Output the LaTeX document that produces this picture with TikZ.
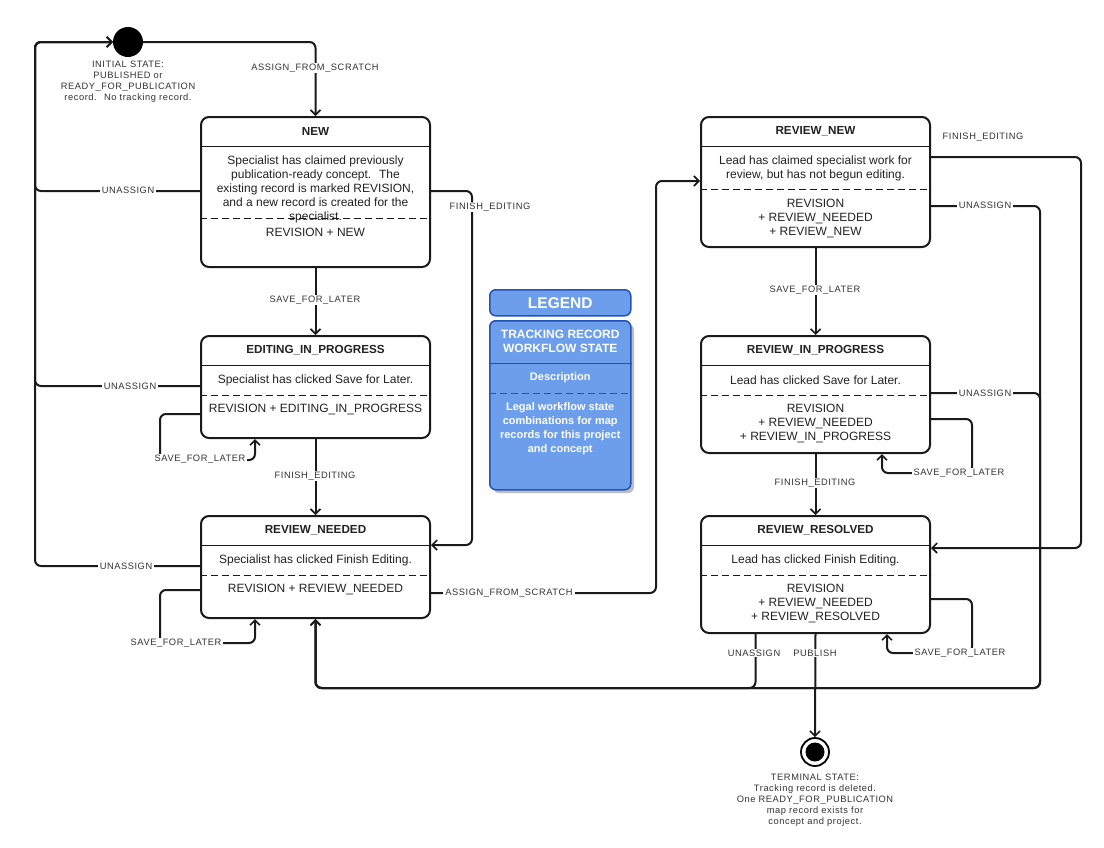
\documentclass[tikz,border=0pt]{standalone}
\usepackage{fontspec}
\setmainfont{Liberation Sans}
\newfontfamily\lblfam{Liberation Sans}[LetterSpace=6]
\usetikzlibrary{arrows.meta}
\definecolor{txt}{RGB}{34,34,34}
\definecolor{lbltxt}{RGB}{51,51,51}
\definecolor{lnc}{RGB}{26,26,26}
\definecolor{lgfill}{RGB}{108,158,235}
\definecolor{lgline}{RGB}{33,82,184}
\definecolor{lgshadow}{RGB}{190,190,190}
\newcommand\boxfont{\fontsize{12}{14}\selectfont}
\newcommand\ttlfont{\fontsize{11.7}{14}\selectfont\bfseries}
\newcommand\lblfont{\lblfam\fontsize{9.3}{11}\selectfont}
\tikzset{
  stbox/.style={draw=lnc, line width=2pt, rounded corners=8pt, fill=white,
    minimum width=229pt, anchor=north west, inner sep=0pt},
  ttl/.style={font=\ttlfont, text=txt, inner sep=0pt},
  body/.style={font=\boxfont, text=txt, align=center, inner sep=0pt},
  sepl/.style={draw=lnc, line width=1pt},
  dsepl/.style={draw=lnc, line width=1pt, dash pattern=on 7pt off 4pt},
  conn/.style={draw=lnc, line width=2pt, rounded corners=6pt,
    -{Straight Barb[length=5pt,width=10pt,line width=1.6pt]}},
  lbl/.style={font=\lblfont, text=lbltxt, fill=white, inner xsep=2pt, inner ysep=1pt},
  note/.style={font=\lblfont, text=lbltxt, align=center, inner sep=0pt},
  lgbox/.style={draw=lgline, line width=1.5pt, fill=lgfill, rounded corners=6pt,
    minimum width=141pt, anchor=north west, inner sep=0pt},
  lgtxt/.style={text=white, font=\bfseries\fontsize{11}{14}\selectfont, align=center, inner sep=0pt},
}
\begin{document}
\begin{tikzpicture}[x=1pt,y=-1pt]
\useasboundingbox (0,0) rectangle (1104,847);
\fill[white] (0,0) rectangle (1104,847);

% ---------- states ----------
\node[circle, fill=black, minimum size=30pt, inner sep=0pt] (init) at (128,42) {};
\node[note] (initL) at (128,82) {INITIAL STATE:\\PUBLISHED or\\READY\_FOR\_PUBLICATION\\record.~ No tracking record.};

\node[circle, draw=black, line width=1.8pt, minimum size=28pt, inner sep=0pt] (term) at (815,752) {};
\fill[black] (term.center) circle[radius=9.5pt];
\node[note] (termL) at (815,800) {TERMINAL STATE:\\Tracking record is deleted.\\One READY\_FOR\_PUBLICATION\\map record exists for\\concept and project.};

% NEW
\node[stbox, minimum height=150pt] (new) at (200,116) {};
\node[ttl] (newT) at ([yshift=-15pt]new.north) {NEW};
\draw[sepl] ([yshift=-30pt]new.north west) -- ([yshift=-30pt]new.north east);
\node[body] (newD) at ([yshift=-73pt]new.north) {Specialist has claimed previously\\publication-ready concept.~ The\\existing record is marked REVISION,\\and a new record is created for the\\specialist.};
\draw[dsepl] ([yshift=-102pt]new.north west) -- ([yshift=-102pt]new.north east);
\node[body] (newC) at ([yshift=-116pt]new.north) {REVISION + NEW};

% EDITING_IN_PROGRESS
\node[stbox, minimum height=102pt] (edit) at (200,335) {};
\node[ttl] (editT) at ([yshift=-15pt]edit.north) {EDITING\_IN\_PROGRESS};
\draw[sepl] ([yshift=-30pt]edit.north west) -- ([yshift=-30pt]edit.north east);
\node[body] (editD) at ([yshift=-45pt]edit.north) {Specialist has clicked Save for Later.};
\draw[dsepl] ([yshift=-60pt]edit.north west) -- ([yshift=-60pt]edit.north east);
\node[body] (editC) at ([yshift=-74pt]edit.north) {REVISION + EDITING\_IN\_PROGRESS};

% REVIEW_NEEDED
\node[stbox, minimum height=102pt] (rneed) at (200,515) {};
\node[ttl] (rneedT) at ([yshift=-15pt]rneed.north) {REVIEW\_NEEDED};
\draw[sepl] ([yshift=-30pt]rneed.north west) -- ([yshift=-30pt]rneed.north east);
\node[body] (rneedD) at ([yshift=-45pt]rneed.north) {Specialist has clicked Finish Editing.};
\draw[dsepl] ([yshift=-60pt]rneed.north west) -- ([yshift=-60pt]rneed.north east);
\node[body] (rneedC) at ([yshift=-74pt]rneed.north) {REVISION + REVIEW\_NEEDED};

% REVIEW_NEW
\node[stbox, minimum height=130pt] (rnew) at (700,116) {};
\node[ttl] (rnewT) at ([yshift=-15pt]rnew.north) {REVIEW\_NEW};
\draw[sepl] ([yshift=-30pt]rnew.north west) -- ([yshift=-30pt]rnew.north east);
\node[body] (rnewD) at ([yshift=-52pt]rnew.north) {Lead has claimed specialist work for\\review, but has not begun editing.};
\draw[dsepl] ([yshift=-73pt]rnew.north west) -- ([yshift=-73pt]rnew.north east);
\node[body] (rnewC) at ([yshift=-102pt]rnew.north) {REVISION\\+ REVIEW\_NEEDED\\+ REVIEW\_NEW};

% REVIEW_IN_PROGRESS
\node[stbox, minimum height=117pt] (rprog) at (700,335) {};
\node[ttl] (rprogT) at ([yshift=-15pt]rprog.north) {REVIEW\_IN\_PROGRESS};
\draw[sepl] ([yshift=-30pt]rprog.north west) -- ([yshift=-30pt]rprog.north east);
\node[body] (rprogD) at ([yshift=-45pt]rprog.north) {Lead has clicked Save for Later.};
\draw[dsepl] ([yshift=-60pt]rprog.north west) -- ([yshift=-60pt]rprog.north east);
\node[body] (rprogC) at ([yshift=-88pt]rprog.north) {REVISION\\+ REVIEW\_NEEDED\\+ REVIEW\_IN\_PROGRESS};

% REVIEW_RESOLVED
\node[stbox, minimum height=117pt] (rres) at (700,515) {};
\node[ttl] (rresT) at ([yshift=-15pt]rres.north) {REVIEW\_RESOLVED};
\draw[sepl] ([yshift=-30pt]rres.north west) -- ([yshift=-30pt]rres.north east);
\node[body] (rresD) at ([yshift=-45pt]rres.north) {Lead has clicked Finish Editing.};
\draw[dsepl] ([yshift=-60pt]rres.north west) -- ([yshift=-60pt]rres.north east);
\node[body] (rresC) at ([yshift=-88pt]rres.north) {REVISION\\+ REVIEW\_NEEDED\\+ REVIEW\_RESOLVED};

% ---------- legend ----------
\fill[lgshadow, rounded corners=6pt] (493,324) rectangle (634,493);
\node[lgbox, minimum height=26pt] (legh) at (489,289) {};
\node[text=white, font=\bfseries\fontsize{15.5}{16}\selectfont, inner sep=0pt] (leghT) at (legh.center) {LEGEND};
\node[lgbox, minimum height=169pt] (legb) at (489,320) {};
\node[lgtxt, font=\bfseries\fontsize{12}{14}\selectfont] (legbT) at ([yshift=-21pt]legb.north) {TRACKING RECORD\\WORKFLOW STATE};
\draw[draw=lgline, line width=1pt] ([yshift=-43pt]legb.north west) -- ([yshift=-43pt]legb.north east);
\node[lgtxt] (legbD) at ([yshift=-58pt]legb.north) {Description};
\draw[draw=lgline, line width=1pt, dash pattern=on 7pt off 4pt] ([yshift=-73pt]legb.north west) -- ([yshift=-73pt]legb.north east);
\node[lgtxt] (legbC) at ([yshift=-108.5pt]legb.north) {Legal workflow state\\combinations for map\\records for this project\\and concept};

% ---------- connectors ----------
\draw[conn] (init.east) -| (new.north);
\draw[conn] ([yshift=-75pt]new.north west) -- ++(-165,0) |- (init.west);
\draw[conn] ([yshift=-51pt]edit.north west) -- ++(-165,0) |- (init.west);
\draw[conn] ([yshift=-51pt]rneed.north west) -- ++(-165,0) |- (init.west);
\draw[conn] (new.south) -- (edit.north);
\draw[conn] ([yshift=-75pt]new.north east) -- ++(41,0) |- ([yshift=-30pt]rneed.north east);
\draw[conn] ([yshift=-79pt]edit.north west) -- ++(-40,0) -- ++(0,46) -| ([xshift=55pt]edit.south west);
\draw[conn] (edit.south) -- (rneed.north);
\draw[conn] ([yshift=-75pt]rneed.north west) -- ++(-40,0) -- ++(0,53) -| ([xshift=55pt]rneed.south west);
\draw[conn] ([yshift=-78pt]rneed.north east) -- ++(225,0) |- ([yshift=-65pt]rnew.north west);
\draw[conn] (rnew.south) -- (rprog.north);
\draw[conn] ([yshift=-41pt]rnew.north east) -- ++(150,0) |- ([yshift=-33pt]rres.north east);
\draw[conn] ([yshift=-90pt]rnew.north east) -- ++(109,0) |- ([yshift=-69pt]rneed.south) -- (rneed.south);
\draw[conn] ([yshift=-58pt]rprog.north east) -- ++(109,0) |- ([yshift=-69pt]rneed.south) -- (rneed.south);
\draw[conn] ([yshift=-84pt]rprog.north east) -- ++(41,0) -- ++(0,54) -| ([xshift=-49pt]rprog.south east);
\draw[conn] (rprog.south) -- (rres.north);
\draw[conn] ([yshift=-84pt]rres.north east) -- ++(41,0) -- ++(0,54) -| ([xshift=-44pt]rres.south east);
\draw[conn] ([xshift=-60pt]rres.south) |- ([yshift=-69pt]rneed.south) -- (rneed.south);
\draw[conn] (rres.south) -- (term.north);

% ---------- connector labels ----------
\node[lbl] (l1) at (315,68) {ASSIGN\_FROM\_SCRATCH};
\node[lbl] (l2) at (128,190) {UNASSIGN};
\node[lbl] (l3) at (315,300) {SAVE\_FOR\_LATER};
\node[lbl] (l4) at (490,207) {FINISH\_EDITING};
\node[lbl] (l5) at (130,386) {UNASSIGN};
\node[lbl] (l6) at (200,459) {SAVE\_FOR\_LATER};
\node[lbl] (l7) at (315,476) {FINISH\_EDITING};
\node[lbl] (l8) at (126,566) {UNASSIGN};
\node[lbl] (l9) at (176,643) {SAVE\_FOR\_LATER};
\node[lbl] (l10) at (509,593) {ASSIGN\_FROM\_SCRATCH};
\node[lbl] (l11) at (983,137) {FINISH\_EDITING};
\node[lbl] (l12) at (985,205) {UNASSIGN};
\node[lbl] (l13) at (815,290) {SAVE\_FOR\_LATER};
\node[lbl] (l14) at (985,393) {UNASSIGN};
\node[lbl] (l15) at (959,473) {SAVE\_FOR\_LATER};
\node[lbl] (l16) at (815,483) {FINISH\_EDITING};
\node[lbl] (l17) at (754,653) {UNASSIGN};
\node[lbl] (l18) at (815,653) {PUBLISH};
\node[lbl] (l19) at (960,653) {SAVE\_FOR\_LATER};
\end{tikzpicture}
\end{document}
